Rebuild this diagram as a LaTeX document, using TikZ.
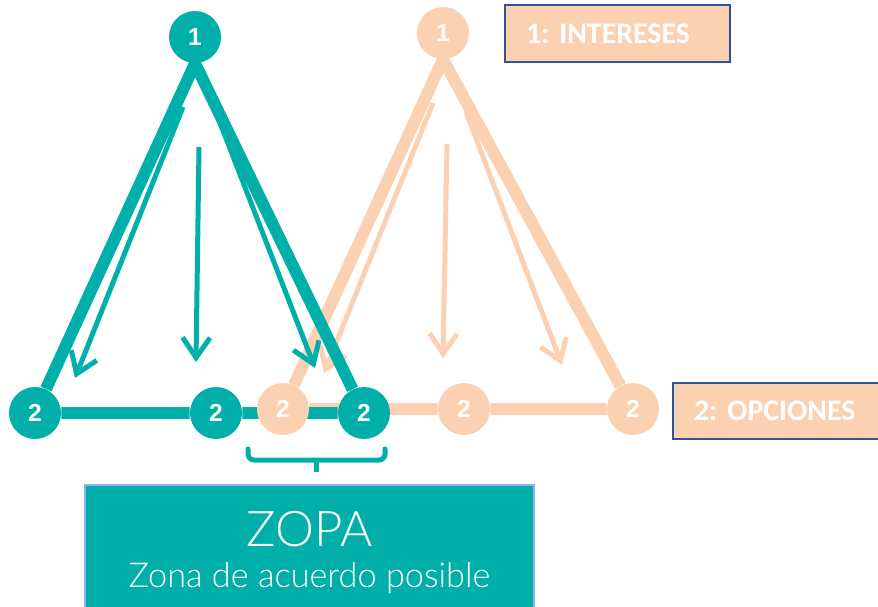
\documentclass[tikz,border=0pt]{standalone}
\usepackage{fontspec}
\setmainfont{Liberation Sans}
\newfontfamily\tagfont{Carlito}
\newfontfamily\zopafont{Lato Light}
\usetikzlibrary{arrows.meta}
\definecolor{zopateal}{RGB}{0,175,170}
\definecolor{peach}{RGB}{251,209,178}
\definecolor{tagblue}{RGB}{47,85,151}
\definecolor{zopaedge}{RGB}{143,180,240}
\pgfdeclarelayer{background layer}
\pgfdeclarelayer{lines layer}
\pgfsetlayers{background layer,lines layer,main}
\tikzset{dot/.style={circle,fill=#1,text=white,inner sep=0pt,minimum size=1.04cm,
  font=\bfseries\fontsize{14}{14}\selectfont}}
\tikzset{side/.style={draw=#1,line width=0.24cm}}
\tikzset{flow/.style={draw=#1,line width=0.1cm,-{Straight Barb[length=0.4cm,width=0.55cm]}}}
\tikzset{tag/.style={draw=tagblue,line width=0.04cm,fill=peach,text=white,anchor=west,
  minimum height=1.14cm,inner xsep=0.42cm,align=left,
  font=\tagfont\bfseries\frenchspacing\fontsize{17}{17}\selectfont}}

\begin{document}
\begin{tikzpicture}[
x = 0.02cm, % one unit is one pixel of the layout
y = -0.02cm,
line cap = round
]
\useasboundingbox (0,0) rectangle (878,607);

% peach triangle: the other side
\node[dot=peach] (ptop) at (443,33) {1};
\node[dot=peach] (pa) at (283,409) {2};
\node[dot=peach] (pb) at (464,409) {2};
\node[dot=peach] (pc) at (633,409) {2};

% teal triangle: our side
\node[dot=zopateal] (ttop) at (195,37) {1};
\node[dot=zopateal] (ta) at (35,413) {2};
\node[dot=zopateal] (tb) at (216,413) {2};
\node[dot=zopateal] (tc) at (364,413) {2};

\coordinate (pa1) at (433,103); \coordinate (pa2) at (324,373);
\coordinate (pb1) at (447,144); \coordinate (pb2) at (443,358);
\coordinate (pc1) at (466,112); \coordinate (pc2) at (562,365);
\coordinate (ta1) at (183,107); \coordinate (ta2) at (75,378);
\coordinate (tb1) at (199,147); \coordinate (tb2) at (196,362);
\coordinate (tc1) at (217,115); \coordinate (tc2) at (315,368);

\begin{pgfonlayer}{background layer}
\draw[side=peach] (pa) -- (pb) -- (pc) -- (ptop.south) -- (pa);
\draw[flow=peach] (pa1) -- (pa2);
\draw[flow=peach] (pb1) -- (pb2);
\draw[flow=peach] (pc1) -- (pc2);
\end{pgfonlayer}

\begin{pgfonlayer}{lines layer}
\draw[side=zopateal] (ta) -- (tb) -- (tc) -- (ttop.south) -- (ta);
\draw[flow=zopateal] (ta1) -- (ta2);
\draw[flow=zopateal] (tb1) -- (tb2);
\draw[flow=zopateal] (tc1) -- (tc2);
\end{pgfonlayer}

% legend
\node[tag,minimum width=4.5cm,text width=3.66cm] (intereses) at (504,33.5) {1: INTERESES};
\node[tag,minimum width=4.4cm,text width=3.56cm] (opciones) at (672,411) {2: OPCIONES};

% brace over the overlap
\coordinate (bl) at (248,449);
\coordinate (bm) at (316,460);
\coordinate (br) at (385,449);
\coordinate (bs) at (316,472);
\draw[zopateal,line width=0.1cm,rounded corners=0.12cm] (bl) |- (bm) -| (br);
\draw[zopateal,line width=0.1cm,line cap=butt] (bm) -- (bs);

\node[draw=zopaedge,line width=0.04cm,fill=zopateal,minimum width=8.98cm,
  minimum height=2.7cm] (zopa) at (309.5,552.5) {};
\node[text=white,font=\zopafont\fontsize{28}{28}\selectfont] (zopatitle) at (309.5,529) {ZOPA};
\node[text=white,font=\zopafont\fontsize{19.5}{19.5}\selectfont] (zopasub) at (309.5,578) {Zona de acuerdo posible};
\end{tikzpicture}
\end{document}
